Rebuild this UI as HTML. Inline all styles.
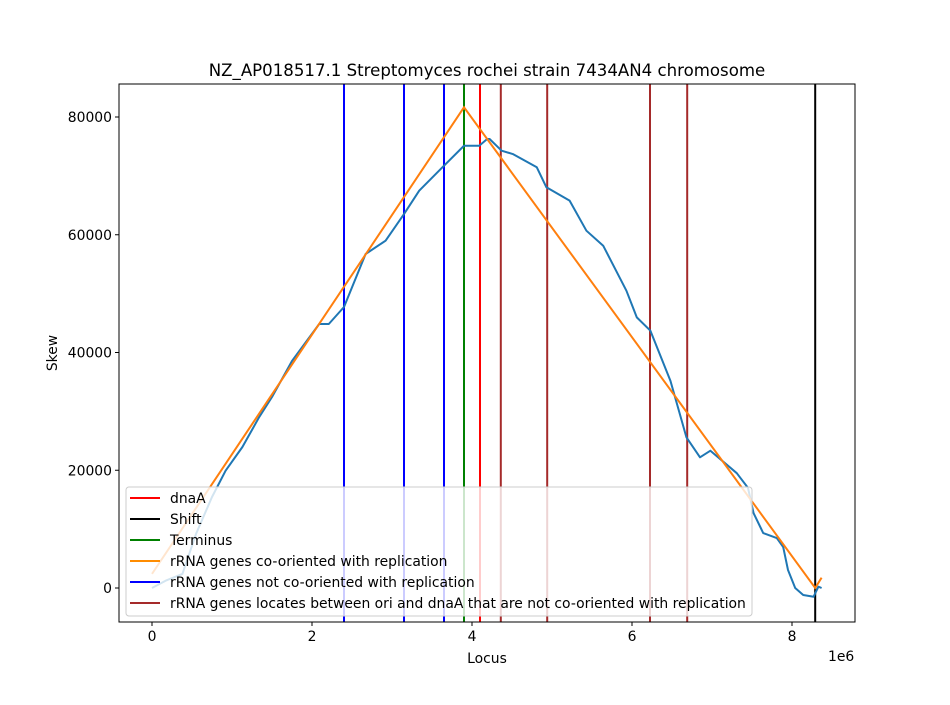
<!DOCTYPE html>
<html><head><meta charset="utf-8"><style>
body{margin:0;background:#fff}
svg text{font-family:"DejaVu Sans","Liberation Sans",sans-serif;fill:#000}
</style></head><body>
<svg id="c" width="950" height="700">
<rect width="950" height="700" fill="#fff"/>
<text x="487" y="76" font-size="16.6" text-anchor="middle">NZ_AP018517.1 Streptomyces rochei strain 7434AN4 chromosome</text>
<g id="plot"></g>
<text x="487" y="663" font-size="13.9" text-anchor="middle">Locus</text>
<text x="57" y="353" font-size="13.9" text-anchor="middle" transform="rotate(-90 57 353)">Skew</text>
<text x="828" y="661" font-size="13.9">1e6</text>
</svg>
<script>
const skewX=[0,0.17,0.38,0.55,0.75,0.92,1.13,1.34,1.5,1.75,2.09,2.21,2.4,2.67,2.92,3.15,3.34,3.63,3.9,4.09,4.19,4.22,4.37,4.51,4.81,4.93,5.22,5.43,5.64,5.93,6.06,6.23,6.48,6.68,6.85,6.98,7.31,7.45,7.52,7.64,7.81,7.89,7.95,8.04,8.14,8.27,8.33,8.37];
const skewY=[0,1240,2380,9170,15460,19920,23950,29040,32440,38560,44840,44840,47730,56730,58990,63520,67480,71460,75120,75120,76260,76260,74280,73710,71460,68060,65790,60690,58140,50500,45970,43700,35210,25600,22200,23320,19500,17000,12700,9340,8490,6960,3060,0,-1190,-1480,220,0];
const fitX=[0,3.9,8.29,8.37];
const fitY=[2400,81650,0,1750];
const vLines=[{x:2.4,c:"#0000ff"},{x:3.15,c:"#0000ff"},{x:3.65,c:"#0000ff"},{x:3.9,c:"#008000"},{x:4.1,c:"#ff0000"},{x:4.36,c:"#a52a2a"},{x:4.94,c:"#a52a2a"},{x:6.225,c:"#a52a2a"},{x:6.69,c:"#a52a2a"},{x:8.29,c:"#000000"}];
const xTicks=[0,2,4,6,8];
const yTicks=[0,20000,40000,60000,80000];
const legendLabels=["dnaA","Shift","Terminus","rRNA genes co-oriented with replication","rRNA genes not co-oriented with replication","rRNA genes locates between ori and dnaA that are not co-oriented with replication"];
const legendColors=["#ff0000","#000000","#008000","#ff8c00","#0000ff","#a52a2a"];

const L=119,R=855,T=84,B=622;
const xs=v=>152+v*80;
const ys=v=>588-v*0.0058875;
const NS="http://www.w3.org/2000/svg";
const g=document.getElementById('plot');
function mk(t,a,p){const e=document.createElementNS(NS,t);for(const k in a)e.setAttribute(k,a[k]);(p||g).appendChild(e);return e;}
vLines.forEach(v=>{const e=mk('line',{x1:xs(v.x),x2:xs(v.x),y1:T,y2:B,stroke:v.c,'stroke-width':2});

});
const s=mk('polyline',{points:skewX.map((x,i)=>xs(x)+','+ys(skewY[i])).join(' '),fill:'none',stroke:'#1f77b4','stroke-width':2,'stroke-linejoin':'round'});


const f=mk('polyline',{points:fitX.map((x,i)=>xs(x)+','+ys(fitY[i])).join(' '),fill:'none',stroke:'#ff7f0e','stroke-width':2});


const fr=mk('rect',{x:L,y:T,width:R-L,height:B-T,fill:'none',stroke:'#000','stroke-width':1});


xTicks.forEach(t=>{mk('line',{x1:xs(t),x2:xs(t),y1:B,y2:B+4,stroke:'#000'});
const e=mk('text',{x:xs(t),y:B+19,'font-size':13.9,'text-anchor':'middle'});e.textContent=t;

});
yTicks.forEach(t=>{mk('line',{x1:L-4,x2:L,y1:ys(t),y2:ys(t),stroke:'#000'});
const e=mk('text',{x:L-7,y:ys(t)+5,'font-size':13.9,'text-anchor':'end'});e.textContent=t;

});
const lg=mk('g',{});


mk('rect',{x:126,y:487,width:626,height:129,rx:3,fill:'rgba(255,255,255,0.8)',stroke:'#ccc'},lg);
legendLabels.forEach((l,i)=>{const y=498+i*21;
mk('line',{x1:130,x2:160,y1:y,y2:y,stroke:legendColors[i],'stroke-width':2},lg);
const e=mk('text',{x:170,y:y+5,'font-size':13.9},lg);e.textContent=l;

});
</script>
</body></html>
